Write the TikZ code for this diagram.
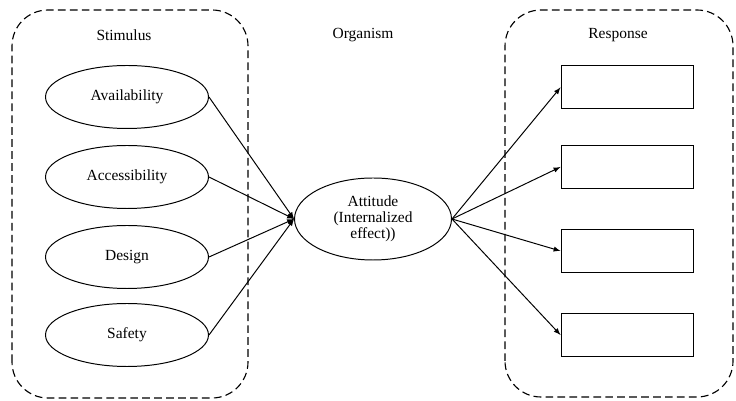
\documentclass[tikz,border=0pt]{standalone}
\usepackage{fontspec}
\setmainfont{Liberation Serif}
\usepackage{tikz}
\usetikzlibrary{arrows,shapes.geometric,positioning}

\tikzset{
  oval/.style={draw,ellipse,line width=0.7pt,minimum width=4.075cm,minimum height=1.575cm,inner sep=0pt,align=center},
  kasten/.style={draw,rectangle,line width=0.7pt,minimum width=3.3cm,minimum height=1.075cm,inner sep=0pt},
  rahmen/.style={line width=0.8pt,dash pattern=on 5.5pt off 3pt,rounded corners=0.9cm},
  pfeil/.style={-latex,line width=0.7pt}
}

\begin{document}
\begin{tikzpicture}[font=\fontsize{11}{11.5}\selectfont]
\useasboundingbox (0,0) rectangle (18.4,10.025);
%gestrichelte Rahmen links und rechts
\draw[rahmen] (0.3,0.075) rectangle (6.2,9.775);
\draw[rahmen] (12.625,0.1) rectangle (18.325,9.775);
\node (stim) at (3.1,9.15) {Stimulus};
\node (org) at (9.075,9.15) {Organism};
\node (resp) at (15.45,9.15) {Response};
%Stimulus-Ellipsen
\foreach \name/\txt/\y in {avail/Availability/7.6,access/Accessibility/5.6,design/Design/3.6,safe/Safety/1.65}{
\node[oval] (\name) at (3.175,\y) {\txt};
}
\node[oval,minimum width=3.925cm,minimum height=2.05cm] (att) at (9.325,4.55) {Attitude\\(Internalized\\effect))};
%Response-Kaesten
\foreach \i/\y in {1/7.84,2/5.85,3/3.75,4/1.65}{
\node[kasten] (r\i) at (15.675,\y) {};
}
\foreach \name in {avail,access,design,safe}{
\draw[pfeil] (\name.east) -- (att.west);
}
\foreach \i in {1,...,4}{
\draw[pfeil] (att.east) -- (r\i.west);
}
\end{tikzpicture}
\end{document}
